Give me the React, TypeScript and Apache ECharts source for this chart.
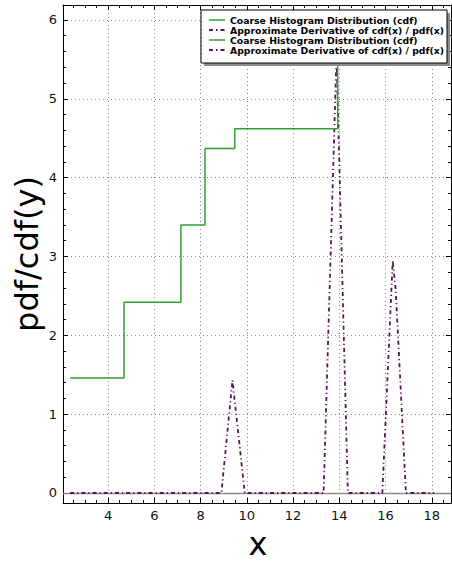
import React, { useEffect, useRef } from "react";
import * as echarts from "echarts";

// Coarse histogram CDF (step function)
const cdfX = [2.36, 4.69, 7.15, 8.19, 9.48, 13.93];
const cdfY = [1.46, 2.42, 3.4, 4.37, 4.62, 5.55];

// Approximate derivative of cdf(x) / pdf(x)
const pdfX = [2.36, 8.9, 9.38, 9.91, 13.32, 13.88, 14.37, 15.86, 16.31, 16.44, 16.88, 18.1];
const pdfY = [0, 0, 1.43, 0, 0, 5.55, 0, 0, 2.95, 2.57, 0, 0];

const legendLabels = [
  "Coarse Histogram Distribution (cdf)",
  "Approximate Derivative of cdf(x) / pdf(x)",
  "Coarse Histogram Distribution (cdf)",
  "Approximate Derivative of cdf(x) / pdf(x)",
];

const GREEN = "#33a033";
const PURPLE = "#561456";
const FONT = "DejaVu Sans";

export default function App() {
  const ref = useRef<HTMLDivElement>(null);
  useEffect(() => {
    if (!ref.current) return;
    const chart = echarts.init(ref.current, undefined, { renderer: "svg" });
    const xMin = 2.05, xMax = 18.83, yMin = -0.127, yMax = 6.19;
    const commonX = {
      type: "value",
      min: xMin,
      max: xMax,
      splitNumber: 8,
      minInterval: 2,
      maxInterval: 2,
      axisLine: { show: true, onZero: false, lineStyle: { color: "#000", width: 1 } },
      axisTick: { show: true, inside: true, length: 5, lineStyle: { color: "#000" } },
      minorTick: { show: true, splitNumber: 4, length: 3, lineStyle: { color: "#000" } },
    };
    const commonY = {
      type: "value",
      min: yMin,
      max: yMax,
      splitNumber: 6,
      minInterval: 1,
      maxInterval: 1,
      axisLine: { show: true, onZero: false, lineStyle: { color: "#000", width: 1 } },
      axisTick: { show: true, inside: true, length: 5, lineStyle: { color: "#000" } },
      minorTick: { show: true, splitNumber: 5, length: 3, lineStyle: { color: "#000" } },
    };
    const legendGraphics: any[] = [
      { type: "rect", shape: { x: 204, y: 13, width: 246, height: 53 }, style: { fill: "#8c8c8c" }, z: 100 },
      { type: "rect", shape: { x: 201, y: 10, width: 246, height: 53 }, style: { fill: "#fff", stroke: "#000", lineWidth: 1 }, z: 101 },
    ];
    legendLabels.forEach((lab, i) => {
      const y = 20 + i * 10;
      const isGreen = i % 2 === 0;
      legendGraphics.push({
        type: "line",
        shape: { x1: 209, y1: y, x2: 225, y2: y },
        style: isGreen
          ? { stroke: GREEN, lineWidth: 1.5 }
          : { stroke: PURPLE, lineWidth: 2, lineDash: [4, 3, 1.5, 3] },
        z: 102,
      });
      legendGraphics.push({
        type: "text",
        x: 230,
        y,
        style: {
          text: lab,
          font: `bold 9.3px "${FONT}"`,
          fill: "#000",
          textAlign: "left",
          verticalAlign: "middle",
        },
        z: 102,
      });
    });
    chart.setOption({
      animation: false,
      backgroundColor: "#fff",
      textStyle: { fontFamily: FONT },
      grid: { left: 63, right: 1, top: 5, bottom: 60, containLabel: false },
      xAxis: [
        {
          ...commonX,
          position: "bottom",
          axisLabel: {
            show: true,
            showMinLabel: false,
            showMaxLabel: false,
            fontSize: 13,
            color: "#111",
            margin: 6,
            fontFamily: FONT,
          },
          splitLine: {
            show: true,
            showMinLine: false,
            showMaxLine: false,
            lineStyle: { color: "#888", type: [1, 3], width: 1 },
          },
        },
        {
          ...commonX,
          position: "top",
          axisLabel: { show: false },
          splitLine: { show: false },
        },
      ],
      yAxis: [
        {
          ...commonY,
          position: "left",
          axisLabel: {
            show: true,
            showMinLabel: false,
            showMaxLabel: false,
            fontSize: 13,
            color: "#111",
            margin: 6,
            fontFamily: FONT,
          },
          splitLine: {
            show: true,
            showMinLine: false,
            showMaxLine: false,
            lineStyle: { color: "#888", type: [1, 3], width: 1 },
          },
        },
        {
          ...commonY,
          position: "right",
          axisLabel: { show: false },
          splitLine: { show: false },
        },
      ],
      series: [
        {
          name: "Approximate Derivative of cdf(x) / pdf(x)",
          type: "line",
          xAxisIndex: 0,
          yAxisIndex: 0,
          data: pdfX.map((x, i) => [x, pdfY[i]]),
          showSymbol: false,
          symbol: "none",
          lineStyle: { color: PURPLE, width: 1.8, type: [4, 3, 1.2, 3] },
          z: 3,
          markLine: {
            silent: true,
            symbol: "none",
            label: { show: false },
            lineStyle: { color: "#8a8a8a", type: "solid", width: 1.3 },
            data: [{ yAxis: 0 }],
            z: 2,
          },
        },
        {
          name: "Coarse Histogram Distribution (cdf)",
          type: "line",
          xAxisIndex: 0,
          yAxisIndex: 0,
          step: "end",
          data: cdfX.map((x, i) => [x, cdfY[i]]),
          showSymbol: false,
          symbol: "none",
          lineStyle: { color: GREEN, width: 1.5 },
          z: 4,
        },
      ],
      graphic: [
        ...legendGraphics,
        {
          type: "text",
          x: 258,
          y: 544,
          style: {
            text: "x",
            font: `32px "${FONT}"`,
            fill: "#000",
            textAlign: "center",
            verticalAlign: "middle",
          },
        },
        {
          type: "text",
          x: 27,
          y: 254,
          rotation: Math.PI / 2,
          style: {
            text: "pdf/cdf(y)",
            font: `32px "${FONT}"`,
            fill: "#000",
            textAlign: "center",
            verticalAlign: "middle",
          },
        },
      ],
    });
    return () => chart.dispose();
  }, []);
  return <div ref={ref} style={{ width: 452, height: 563, position: "absolute", left: 0, top: 0 }} />;
}
